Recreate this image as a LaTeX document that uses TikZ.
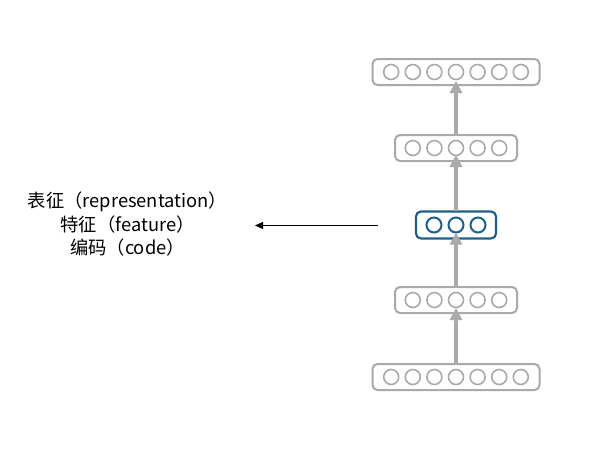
\documentclass[tikz,border=0pt]{standalone}
\usepackage{fontspec}
\setmainfont{Noto Sans CJK SC}
\usetikzlibrary{arrows.meta}
\definecolor{lgray}{HTML}{AAAAAA}
\definecolor{dblue}{HTML}{1F5F8B}
\begin{document}
\begin{tikzpicture}[x=1pt,y=-1pt,
  layerbox/.style={draw=lgray,line width=2pt,rounded corners=5pt,minimum height=26pt,inner sep=0pt},
  codebox/.style={draw=dblue,line width=2.2pt,rounded corners=5pt,minimum height=27pt,inner sep=0pt},
  unit/.style={circle,draw=lgray,line width=1.6pt,minimum size=15pt,inner sep=0pt},
  cunit/.style={circle,draw=dblue,line width=2pt,minimum size=15pt,inner sep=0pt},
  uparrow/.style={draw=lgray,line width=3.2pt,-{Triangle[width=12pt,length=12pt]}},
  lbl/.style={font=\fontsize{18.3}{21}\selectfont,inner sep=0pt}]
\useasboundingbox (0,0) rectangle (600,450);
% layers
\node[layerbox,minimum width=167pt] (l1) at (456,72) {};
\node[layerbox,minimum width=122pt] (l2) at (456,148) {};
\node[codebox,minimum width=80pt] (l3) at (456,225) {};
\node[layerbox,minimum width=122pt] (l4) at (456,300) {};
\node[layerbox,minimum width=167pt] (l5) at (456,377) {};
% units
\foreach \i in {-3,...,3} {
  \node[unit] (a\i) at (456+21.6*\i,72) {};
  \node[unit] (e\i) at (456+21.6*\i,377) {};
}
\foreach \i in {-2,...,2} {
  \node[unit] (b\i) at (456+21.6*\i,148) {};
  \node[unit] (d\i) at (456+21.6*\i,300) {};
}
\foreach \i in {-1,0,1} {
  \node[cunit] (c\i) at (456+22*\i,225) {};
}
% arrows
\draw[uparrow] ([yshift=-1pt]l5.north) -- ([yshift=6pt]l4.south);
\draw[uparrow] ([yshift=-1pt]l4.north) -- ([yshift=7pt]l3.south);
\draw[uparrow] ([yshift=-1pt]l3.north) -- ([yshift=7pt]l2.south);
\draw[uparrow] ([yshift=-1pt]l2.north) -- ([yshift=5pt]l1.south);
% text
\node[lbl] (t1) at (127.5,202) {表征（representation）};
\node[lbl] (t2) at (127.5,225) {特征（feature）};
\node[lbl] (t3) at (127.5,248) {编码（code）};
\coordinate (src) at (378,225.5);
\coordinate (dst) at (255,225.5);
\draw[line width=1.2pt,-{Triangle[width=7pt,length=8pt]}] (src) -- (dst);
\end{tikzpicture}
\end{document}
